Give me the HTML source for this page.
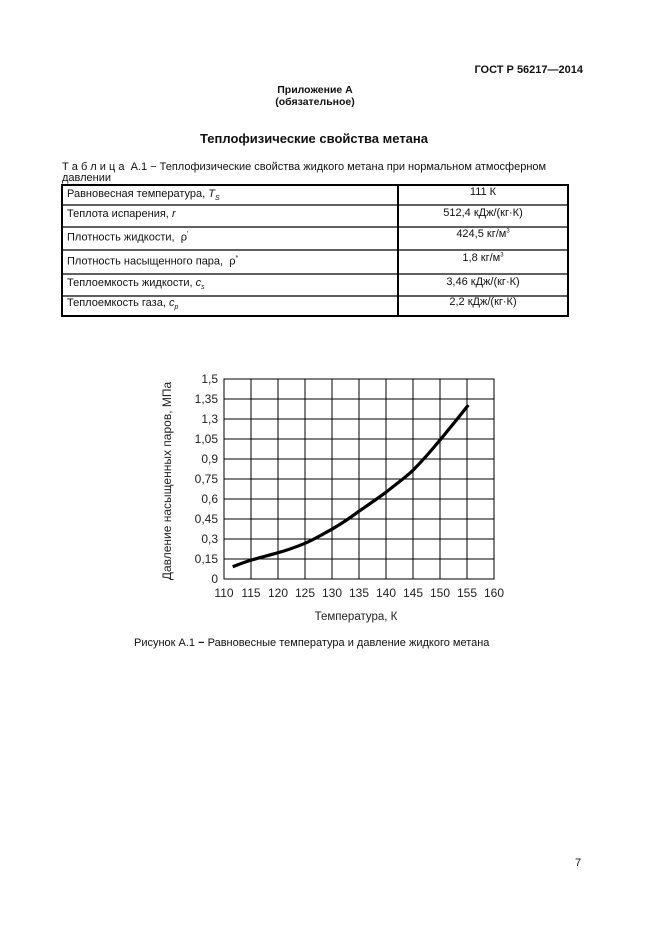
<!DOCTYPE html>
<html><head><meta charset="utf-8"><style>
body{margin:0;background:#fff;}
.p{position:relative;width:661px;height:936px;font-family:"Liberation Sans",sans-serif;color:#111;}
.t{position:absolute;white-space:nowrap;font-size:11px;}
.b{font-weight:bold;}
.cell{position:absolute;font-size:11px;white-space:nowrap;}
</style></head><body><div class="p">
<div class="t b" style="right:78px;top:64px;font-size:11px;">ГОСТ Р 56217—2014</div>
<div class="t b" style="left:0;width:630px;text-align:center;top:84px;font-size:10.5px;">Приложение А</div>
<div class="t b" style="left:0;width:630px;text-align:center;top:96px;font-size:10.5px;">(обязательное)</div>
<div class="t b" style="left:0;width:628px;text-align:center;top:131px;font-size:13px;">Теплофизические свойства метана</div>
<div class="t" style="left:62px;top:161px;">Т а б л и ц а &nbsp;А.1 − Теплофизические свойства жидкого метана при нормальном атмосферном</div>
<div class="t" style="left:62px;top:172px;">давлении</div>
<svg style="position:absolute;left:0;top:0" width="661" height="936">
<g stroke="#000" fill="none">
<rect x="62" y="185" width="506" height="131" stroke-width="2"/>
<line x1="398" y1="185" x2="398" y2="316" stroke-width="2"/>
<line x1="62" y1="205" x2="568" y2="205" stroke-width="1.3"/>
<line x1="62" y1="227" x2="568" y2="227" stroke-width="1.3"/>
<line x1="62" y1="250" x2="568" y2="250" stroke-width="1.3"/>
<line x1="62" y1="274" x2="568" y2="274" stroke-width="1.3"/>
<line x1="62" y1="296" x2="568" y2="296" stroke-width="1.3"/>
</g>
<g stroke="#000" stroke-width="1" fill="none">
<rect x="224" y="379" width="270" height="200"/>
<path d="M251 379V579M278 379V579M305 379V579M332 379V579M359 379V579M386 379V579M413 379V579M440 379V579M467 379V579"/>
<path d="M224 399H494M224 419H494M224 439H494M224 459H494M224 479H494M224 499H494M224 519H494M224 539H494M224 559H494"/>
</g>
<path d="M232.7 566.7 C240 564 246 561.5 251.7 560 C262 557 270 555 278 552.7 C288 550 296 547 305 543.3 C315 539 323 534 331.7 529.3 C341 524 350 518 358.3 511.7 C368 505 377 499 386.7 491.7 C396 484 405 478 413.3 470 C423 460 431 451 440 440 C450 428 459 417 468.3 405" stroke="#000" stroke-width="3.2" fill="none"/>
<g font-family="Liberation Sans, sans-serif" font-size="12" fill="#222" text-anchor="end">
<text x="218" y="383">1,5</text><text x="218" y="403">1,35</text><text x="218" y="423">1,3</text><text x="218" y="443">1,05</text><text x="218" y="463">0,9</text><text x="218" y="483">0,75</text><text x="218" y="503">0,6</text><text x="218" y="523">0,45</text><text x="218" y="543">0,3</text><text x="218" y="563">0,15</text><text x="218" y="583">0</text>
</g>
<g font-family="Liberation Sans, sans-serif" font-size="12" fill="#222" text-anchor="middle">
<text x="224" y="597">110</text><text x="251" y="597">115</text><text x="278" y="597">120</text><text x="305" y="597">125</text><text x="332" y="597">130</text><text x="359" y="597">135</text><text x="386" y="597">140</text><text x="413" y="597">145</text><text x="440" y="597">150</text><text x="467" y="597">155</text><text x="494" y="597">160</text>
<text x="356" y="620" font-size="11.5">Температура, К</text>
<text transform="translate(171,481) rotate(-90)" font-size="12">Давление насыщенных паров, МПа</text>
</g>
</svg>
<div class="cell" style="left:67px;top:188px;">Равновесная температура, <i>T</i><sub style="font-size:7px"><i>S</i></sub></div>
<div class="cell" style="left:67px;top:208px;">Теплота испарения, <i>r</i></div>
<div class="cell" style="left:67px;top:231px;">Плотность жидкости, &nbsp;ρ<sup style="font-size:7px">′</sup></div>
<div class="cell" style="left:67px;top:255px;">Плотность насыщенного пара, &nbsp;ρ<sup style="font-size:7px">*</sup></div>
<div class="cell" style="left:67px;top:277px;">Теплоемкость жидкости, <i>c</i><sub style="font-size:7px"><i>s</i></sub></div>
<div class="cell" style="left:67px;top:297px;">Теплоемкость газа, <i>c</i><sub style="font-size:7px"><i>p</i></sub></div>
<div class="cell" style="left:398px;width:170px;text-align:center;top:186px;">111 К</div>
<div class="cell" style="left:398px;width:170px;text-align:center;top:207px;">512,4 кДж/(кг·К)</div>
<div class="cell" style="left:398px;width:170px;text-align:center;top:228px;">424,5 кг/м<sup style="font-size:6px">3</sup></div>
<div class="cell" style="left:398px;width:170px;text-align:center;top:252px;">1,8 кг/м<sup style="font-size:6px">3</sup></div>
<div class="cell" style="left:398px;width:170px;text-align:center;top:276px;">3,46 кДж/(кг·К)</div>
<div class="cell" style="left:398px;width:170px;text-align:center;top:296px;">2,2 кДж/(кг·К)</div>
<div class="t" style="left:134px;top:637px;">Рисунок А.1 <b>−</b> Равновесные температура и давление жидкого метана</div>
<div class="t" style="left:575px;top:857px;font-size:11px;">7</div>
</div></body></html>
